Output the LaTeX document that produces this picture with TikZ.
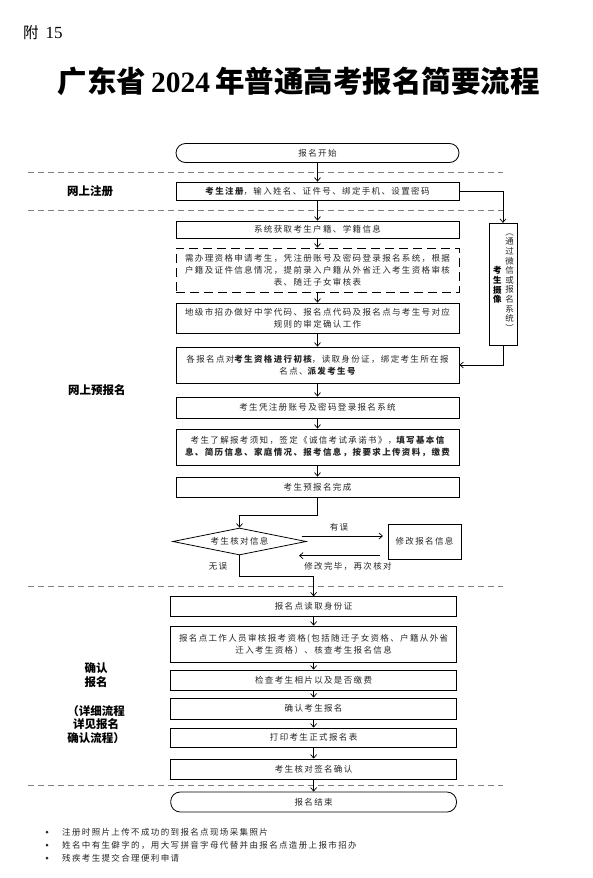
\documentclass[tikz,border=0pt]{standalone}
\usepackage{fontspec}
\setmainfont{Noto Sans CJK SC}
\newfontfamily\bx[LetterSpace=16]{Noto Sans CJK SC}
\newfontfamily\hei{Noto Sans CJK SC}
\newfontfamily\tnr{Liberation Serif}
\usetikzlibrary{arrows.meta,shapes.geometric}
\tikzset{
 every node/.style={inner sep=0pt},
 box/.style={draw, line width=0.8pt, minimum width=283pt, align=center, font=\bx\fontsize{8.5}{12}\selectfont, text=black!85},
 lbox/.style={box, minimum width=285.8pt},
 term/.style={rounded corners=9.5pt},
 dbox/.style={box, dash pattern=on 9pt off 5pt},
 arr/.style={line width=0.7pt, -{Straight Barb[length=3.5pt,width=6pt]}},
 sep/.style={draw=black!50, line width=0.9pt, dash pattern=on 6pt off 4pt},
 lab/.style={font=\hei\bfseries\fontsize{11.5}{14}\selectfont, align=center},
 note/.style={font=\bx\fontsize{8.5}{12}\selectfont, text=black!85},
}
\begin{document}
\begin{tikzpicture}[x=1pt,y=-1pt]
\useasboundingbox[fill=white] (0,0) rectangle (593,878);
% header
\node[anchor=west] (fu) at (23,33) {\hei\fontsize{15.5}{18}\selectfont 附\hspace{7pt}{\tnr\fontsize{17}{18}\selectfont 15}};
\node (title) at (298.5,81) {\hei\bfseries\fontsize{29.5}{32}\selectfont 广东省\hspace{5pt}{\tnr\bfseries 2024}\hspace{5pt}年普通高考报名简要流程};
% separators
\draw[sep] (28,172) -- (503,172);
\draw[sep] (28,210) -- (503,210);
\draw[sep] (28,586) -- (503,586);
\draw[sep] (28,785) -- (503,785);
% left labels
\node[lab, anchor=west] (l1) at (67,191) {网上注册};
\node[lab, anchor=west] (l2) at (68,390) {网上预报名};
\node[lab] (l3) at (96,675) {确认\\报名};
\node[lab, font=\hei\bfseries\fontsize{11.5}{13.5}\selectfont] (l4) at (96,724.5) {（详细流程\\详见报名\\确认流程）};
% upper chain
\node[box, term, minimum height=19pt] (start) at (317.5,153) {报名开始};
\node[box, minimum height=18pt] (reg) at (317.5,191) {{\bfseries 考生注册}，输入姓名、证件号、绑定手机、设置密码};
\node[box, minimum height=17pt] (sys) at (317.5,229.5) {系统获取考生户籍、学籍信息};
\node[dbox, minimum height=44pt] (need) at (317.5,270) {需办理资格申请考生，凭注册账号及密码登录报名系统，根据\\户籍及证件信息情况，提前录入户籍从外省迁入考生资格审核\\表、随迁子女审核表};
\node[box, minimum height=30pt] (city) at (317.5,318) {地级市招办做好中学代码、报名点代码及报名点与考生号对应\\规则的审定确认工作};
\node[box, minimum height=36pt] (init) at (317.5,365) {各报名点对{\bfseries 考生资格进行初核}，读取身份证，绑定考生所在报\\名点、{\bfseries 派发考生号}};
\node[box, minimum height=21pt] (login) at (317.5,407.5) {考生凭注册账号及密码登录报名系统};
\node[box, minimum height=36pt] (fill) at (317.5,447) {考生了解报考须知，签定《诚信考试承诺书》，{\bfseries 填写基本信}\\{\bfseries 息、简历信息、家庭情况、报考信息，按要求上传资料，缴费}};
\node[box, minimum height=20pt] (done) at (317.5,487) {考生预报名完成};
% camera box
\node[box, minimum width=28pt, minimum height=122.4pt] (cam) at (503,284.5) {};
\node[font=\hei\fontsize{8.5}{9.6}\selectfont, align=center, text=black!85] (camt) at (509.5,282.5) {︵\\通\\过\\微\\信\\或\\报\\名\\系\\统\\︶};
\node[font=\hei\bfseries\fontsize{8.5}{9.6}\selectfont, align=center] (camb) at (497.3,285) {考\\生\\摄\\像};
% check
\node[draw, diamond, line width=0.8pt, aspect=5, minimum width=133.5pt, minimum height=27pt, font=\bx\fontsize{8.5}{12}\selectfont, text=black!85] (chk) at (239.5,541.5) {考生核对信息};
\node[box, minimum width=73pt, minimum height=35pt] (fix) at (424.5,541.5) {修改报名信息};
\coordinate (a1) at (301.7,536);
\coordinate (a2) at (383,536);
\coordinate (b1) at (380,555.7);
\coordinate (b2) at (299,555.7);
\node[note] (t1) at (339,527) {有误};
\node[note] (t2) at (348,566.7) {修改完毕，再次核对};
\node[note] (t3) at (218,566) {无误};
% lower chain
\node[box, lbox, minimum height=19.5pt] (read) at (313.6,606.5) {报名点读取身份证};
\node[box, lbox, minimum height=36pt] (review) at (313.6,644) {报名点工作人员审核报考资格(包括随迁子女资格、户籍从外省\\迁入考生资格）、核查考生报名信息};
\node[box, lbox, minimum height=20pt] (photo) at (313.6,680) {检查考生相片以及是否缴费};
\node[box, lbox, minimum height=21pt] (confirm) at (313.6,708.5) {确认考生报名};
\node[box, lbox, minimum height=19pt] (print) at (313.6,737.5) {打印考生正式报名表};
\node[box, lbox, minimum height=20pt] (sign) at (313.6,769) {考生核对签名确认};
\node[box, lbox, term, minimum height=20pt] (finish) at (313.6,802) {报名结束};
% notes
\node[circle, fill=black!85, minimum size=3pt] (d1) at (47,832) {};
\node[circle, fill=black!85, minimum size=3pt] (d2) at (47,845) {};
\node[circle, fill=black!85, minimum size=3pt] (d3) at (47,858) {};
\node[note, anchor=west] (n1) at (62,832) {注册时照片上传不成功的到报名点现场采集照片};
\node[note, anchor=west] (n2) at (62,845) {姓名中有生僻字的，用大写拼音字母代替并由报名点造册上报市招办};
\node[note, anchor=west] (n3) at (62,858) {残疾考生提交合理便利申请};
% connectors
\foreach \a/\b in {start/reg,reg/sys,sys/need,need/city,city/init,init/login,login/fill,fill/done,read/review,review/photo,photo/confirm,confirm/print,print/sign,sign/finish}
  \draw[arr] (\a.south) -- (\b.north);
\draw[arr] (done.south) -- ++(0,18) -| (chk.north);
\draw[arr] (chk.south) -- ++(0,21) -| (read.north);
\draw[arr] (a1) -- (a2);
\draw[arr] (b1) -- (b2);
\draw[arr] (reg.east) -| (cam.north);
\draw[arr] (cam.south) |- (init.east);
\end{tikzpicture}
\end{document}
